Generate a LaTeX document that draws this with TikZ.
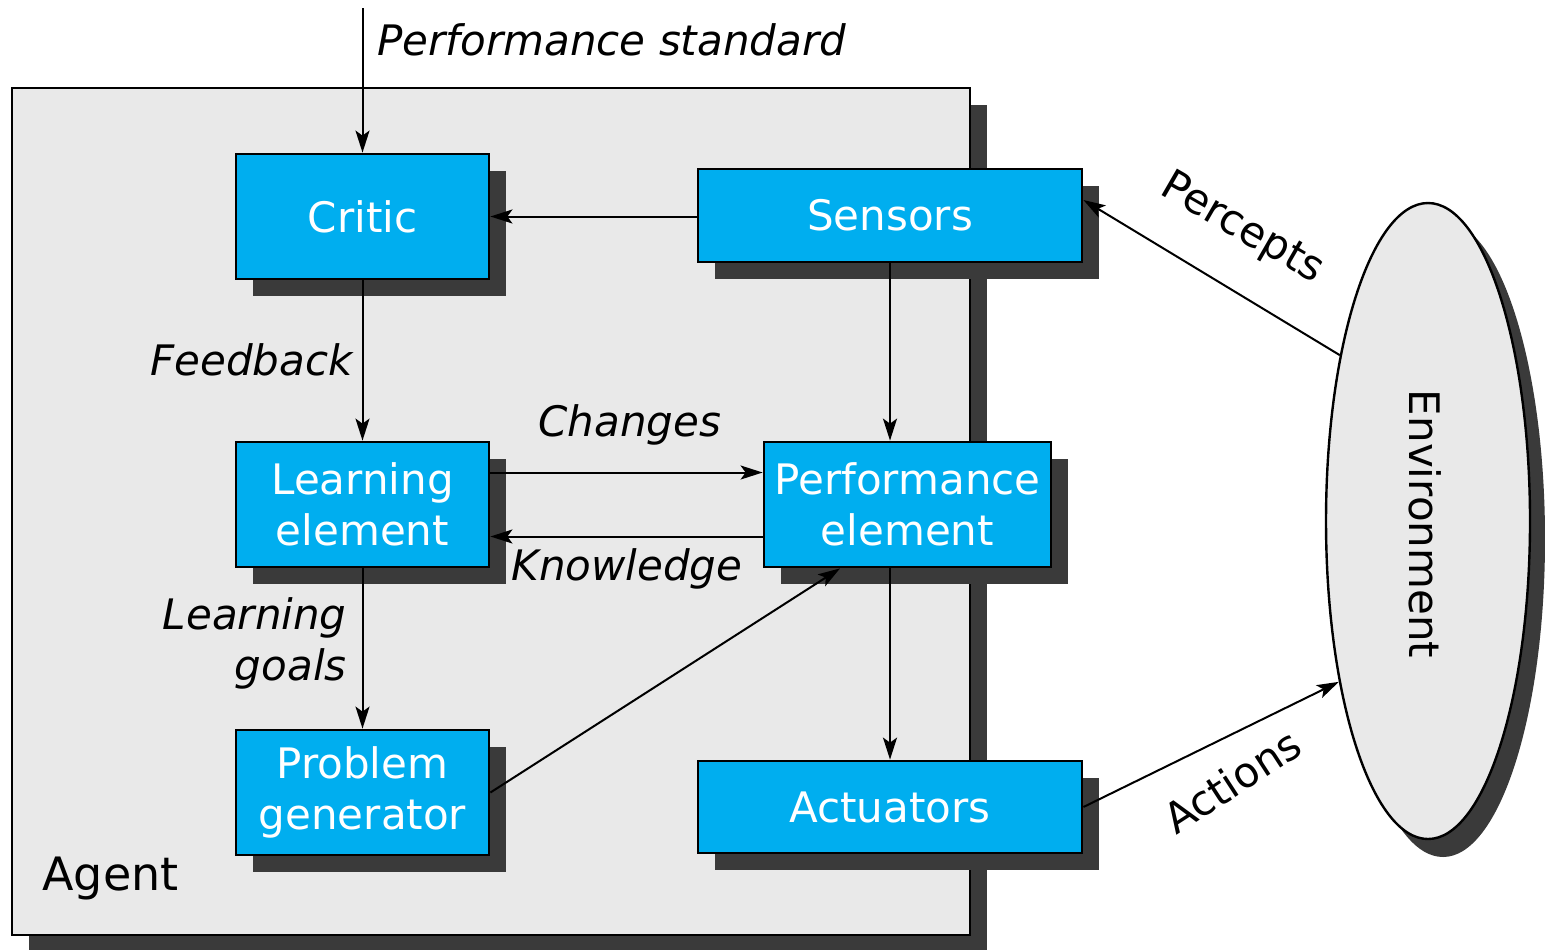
\documentclass[tikz,border=0pt]{standalone}
\usepackage{fontspec}
\setmainfont{DejaVu Sans}
\usepackage{tikz}
\usetikzlibrary{arrows.meta,positioning,calc,shadows,shapes.geometric}
\definecolor{boxblue}{HTML}{00AEEF}
\definecolor{agentgray}{HTML}{E9E9E9}
\definecolor{shadowgray}{HTML}{3A3A3A}
\tikzstyle{shade}=[drop shadow={shadow xshift=8.5pt,shadow yshift=-8.5pt,fill=shadowgray,opacity=1}]
\tikzstyle{unit}=[draw,line width=1.4pt,fill=boxblue,text=white,inner sep=0pt,align=center,
  font=\fontsize{21}{25.5}\selectfont,shade]
\tikzstyle{lbl}=[inner sep=0pt,font=\fontsize{21}{25.5}\selectfont\itshape,align=right]
\tikzstyle{arr}=[line width=1pt,-{Stealth[length=11pt,width=7pt,inset=2.5pt]}]

\begin{document}
\begin{tikzpicture}[x=0.5pt,y=-0.5pt]
\useasboundingbox (0,0) rectangle (1545,949);
% agent frame
\node [draw,line width=1.4pt,fill=agentgray,minimum width=479pt,minimum height=423.5pt,inner sep=0pt,shade]
  (agent) at (491,511.5) {};
\node [anchor=west,inner sep=0pt,font=\fontsize{23}{27}\selectfont] (agentlbl) at (42,878) {Agent};
% components
\node [unit,minimum width=126.5pt,minimum height=62.5pt] (critic) at (362.5,216.5) {Critic};
\node [unit,minimum width=192pt,minimum height=46.5pt] (sensors) at (890,215.5) {Sensors};
\node [unit,minimum width=126.5pt,minimum height=62.5pt] (learn) at (362.5,504.5) {Learning\\element};
\node [unit,minimum width=143.5pt,minimum height=62.5pt] (perf) at (907.5,504.5) {Performance\\element};
\node [unit,minimum width=126.5pt,minimum height=62.5pt] (prob) at (362.5,792.5) {Problem\\generator};
\node [unit,minimum width=192pt,minimum height=46pt] (act) at (890,807) {Actuators};
% environment
\node [ellipse,draw,line width=1.2pt,fill=agentgray,minimum width=102pt,minimum height=318pt,inner sep=0pt,
  drop shadow={shadow xshift=7.5pt,shadow yshift=-9pt,fill=shadowgray,opacity=1}] (env) at (1428,521) {};
\node [rotate=-90,inner sep=0pt,font=\fontsize{21}{25}\selectfont] (envlbl) at (1425,524) {Environment};
% connectors
\coordinate (stdtop) at (362.5,8);
\draw [arr] (stdtop) -- (critic.north);
\node [lbl,anchor=west] (stdlbl) at (377,40) {Performance standard};
\draw [arr] (sensors.west |- critic.east) -- (critic.east);
\draw [arr] (critic.south) -- (learn.north);
\node [lbl,anchor=east] (fblbl) at (353,360) {Feedback};
\draw [arr] (sensors.south) -- (sensors.south |- perf.north);
\draw [arr] ([yshift=16pt]learn.east) -- ([yshift=16pt]perf.west);
\node [lbl] (chlbl) at (630,425) {Changes};
\draw [arr] ([yshift=-16pt]perf.west) -- ([yshift=-16pt]learn.east);
\node [lbl] (knlbl) at (627,569) {Knowledge};
\draw [arr] (learn.south) -- (prob.north);
\node [lbl,anchor=east] (lglbl) at (347,643) {Learning\\goals};
\draw [arr] (prob.east) -- ([xshift=-33.75pt]perf.south);
\draw [arr] (perf.south -| act.north) -- (act.north);
\draw [arr] (env.118) -- ([yshift=7.75pt]sensors.east);
\node [rotate=-30,inner sep=0pt,font=\fontsize{21}{25}\selectfont] (perclbl) at (1242,229) {Percepts};
\draw [arr] (act.east) -- (env.241);
\node [rotate=33,inner sep=0pt,font=\fontsize{21}{25}\selectfont] (actlbl) at (1232,781) {Actions};
\end{tikzpicture}
\end{document}
